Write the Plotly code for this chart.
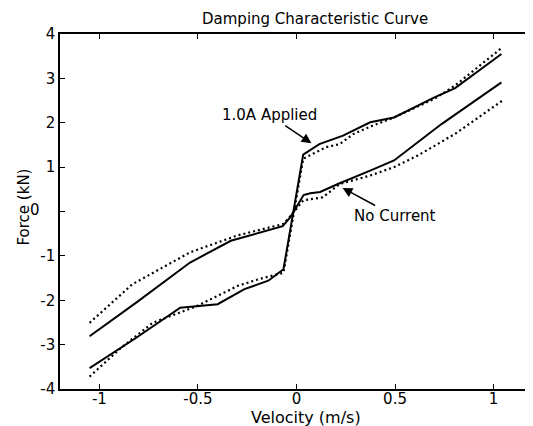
import plotly.graph_objects as go

# 1.0 A applied - simulated (solid) and measured (dotted)
applied_sim_v = [-1.05, -0.815, -0.59, -0.40, -0.264, -0.143, -0.066, 0.034, 0.116, 0.236, 0.374, 0.495, 0.70, 0.805, 1.04]
applied_sim_f = [-3.53, -2.85, -2.17, -2.09, -1.75, -1.56, -1.30, 1.28, 1.52, 1.71, 2.01, 2.12, 2.57, 2.78, 3.55]
applied_exp_v = [-1.05, -0.90, -0.73, -0.505, -0.30, -0.195, -0.066, 0.034, 0.15, 0.22, 0.29, 0.39, 0.495, 0.70, 0.805, 1.045]
applied_exp_f = [-3.72, -3.11, -2.51, -2.13, -1.68, -1.53, -1.38, 1.19, 1.45, 1.52, 1.75, 1.94, 2.12, 2.54, 2.84, 3.70]

# No current - simulated (solid) and measured (dotted)
nocur_sim_v = [-1.05, -0.815, -0.54, -0.333, -0.07, -0.03, 0.036, 0.07, 0.12, 0.21, 0.374, 0.495, 0.736, 1.04]
nocur_sim_f = [-2.81, -2.06, -1.15, -0.66, -0.33, -0.12, 0.37, 0.41, 0.44, 0.62, 0.92, 1.15, 1.97, 2.91]
nocur_exp_v = [-1.05, -0.833, -0.54, -0.30, -0.066, -0.02, 0.034, 0.133, 0.22, 0.374, 0.495, 0.615, 0.805, 1.045]
nocur_exp_f = [-2.51, -1.64, -0.92, -0.54, -0.28, -0.05, 0.25, 0.32, 0.62, 0.81, 1.0, 1.26, 1.75, 2.5]

x_ticks = [-1, -0.5, 0, 0.5, 1]
x_tick_text = ["-1", "-0.5", "0", "0.5", "1"]
y_ticks = [-4, -3, -2, -1, 0, 1, 2, 3, 4]
y_tick_text = ["-4", "-3", "-2", "-1", "", "1", "2", "3", "4"]

FONT = "DejaVu Sans"
# the page body adds an 8px margin, so the figure is sized to end at the window edge
W, H = 525, 418
L, R, T, B = 52, 2, 26, 37
PLOT_CX = L + (W - L - R) / 2

fig = go.Figure()
solid = dict(color="black", width=2)
dotted = dict(color="black", width=2.2, dash="2px,3px")
fig.add_trace(go.Scatter(x=applied_exp_v, y=applied_exp_f, mode="lines", line=dotted))
fig.add_trace(go.Scatter(x=nocur_exp_v, y=nocur_exp_f, mode="lines", line=dotted))
fig.add_trace(go.Scatter(x=applied_sim_v, y=applied_sim_f, mode="lines", line=solid))
fig.add_trace(go.Scatter(x=nocur_sim_v, y=nocur_sim_f, mode="lines", line=solid))

axis_common = dict(
    showline=True, linecolor="black", linewidth=1.5, mirror="ticks",
    ticks="inside", ticklen=5, tickwidth=1.2, tickcolor="black",
    showgrid=False, zeroline=False, automargin=False,
    tickfont=dict(family=FONT, size=15, color="black"),
)

fig.update_xaxes(range=[-1.2, 1.19], tickvals=x_ticks, ticktext=x_tick_text,
                 ticklabelstandoff=-5, **axis_common)
fig.update_yaxes(range=[-4, 4], tickvals=y_ticks, ticktext=y_tick_text,
                 **axis_common)

txt = dict(family=FONT, size=15, color="black")
fig.add_annotation(x=0.076, y=1.54, xref="x", yref="y", text="1.0A Applied",
                   showarrow=True, arrowhead=2, arrowsize=1.3, arrowwidth=1.5, arrowcolor="black",
                   ax=-42, ay=-28, font=txt)
fig.add_annotation(x=0.234, y=0.53, xref="x", yref="y", text="No Current",
                   showarrow=True, arrowhead=2, arrowsize=1.3, arrowwidth=1.5, arrowcolor="black",
                   ax=52, ay=28, font=txt)
# zero tick label sits apart from the others in the original
fig.add_annotation(x=0, y=0, xref="paper", yref="y", text="0", showarrow=False,
                   xanchor="right", xshift=-18, yshift=2, font=txt)
# axis titles
fig.add_annotation(x=0.5, y=0, xref="paper", yref="paper", text="Velocity (m/s)",
                   showarrow=False, xanchor="center", yanchor="middle",
                   xshift=298 - PLOT_CX, yshift=-28,
                   font=dict(family=FONT, size=16, color="black"))
fig.add_annotation(x=0, y=0.5, xref="paper", yref="paper", text="Force (kN)",
                   showarrow=False, xanchor="center", yanchor="middle", textangle=-90,
                   xshift=-(L - 15), yshift=4, font=txt)
# title
fig.add_annotation(x=0.5, y=1, xref="paper", yref="paper", text="Damping Characteristic Curve",
                   showarrow=False, xanchor="center", yanchor="middle",
                   xshift=307 - PLOT_CX, yshift=T - 11,
                   font=txt)

fig.update_layout(
    width=W, height=H,
    margin=dict(l=L, r=R, t=T, b=B, autoexpand=False),
    paper_bgcolor="white", plot_bgcolor="white",
    showlegend=False,
)

fig.write_html("out.html")
